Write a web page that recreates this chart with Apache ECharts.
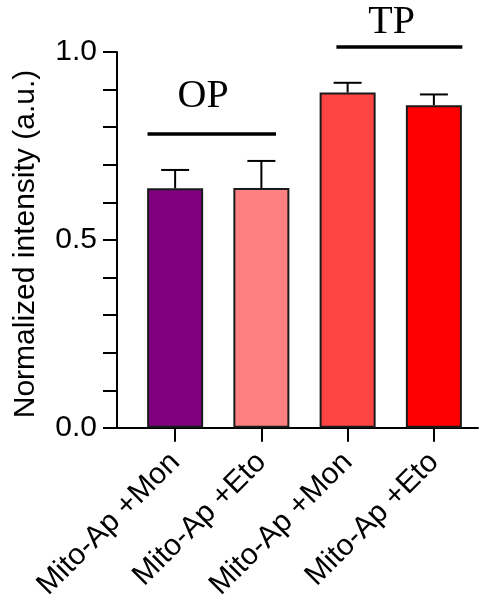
<!DOCTYPE html>
<html>
<head>
<meta charset="utf-8">
<script src="https://cdn.jsdelivr.net/npm/echarts@6/dist/echarts.min.js"></script>
<style>
  html, body { margin: 0; padding: 0; background: #fff; }
  #chart { width: 486px; height: 603px; }
</style>
</head>
<body>
<div id="chart"></div>
<script>
// data
const categories = ["Mito-Ap +Mon", "Mito-Ap +Eto", "Mito-Ap +Mon", "Mito-Ap +Eto"];
const means = [0.637, 0.638, 0.892, 0.858];
const errors = [0.049, 0.072, 0.026, 0.029];
const barColors = ["#800080", "#FF8080", "#FF4444", "#FF0000"];
const yTicks = [0, 0.5, 1.0];

// group brackets (in category units / y value)
const bracketLabels = ["OP", "TP"];
const bracketFrom = [-0.32, 1.87];
const bracketTo = [1.17, 3.33];
const bracketY = [0.782, 1.013];
const bracketTextY = [0.827, 1.024];
const bracketTextShift = [-0.1, -0.09];

const FONT = "Liberation Sans";
const chart = echarts.init(document.getElementById("chart"));

const gridPos = { top: 52, bottom: 175 };

const option = {
  animation: false,
  grid: [
    { left: 117, right: 8, top: gridPos.top, bottom: gridPos.bottom },
    { left: 132, right: 9, top: gridPos.top, bottom: gridPos.bottom },
  ],
  xAxis: [
    {
      // only the long axis line
      gridIndex: 0,
      type: "value",
      min: 0,
      max: 1,
      axisLine: { show: true, onZero: false, lineStyle: { color: "#000", width: 2 } },
      axisTick: { show: false },
      axisLabel: { show: false },
      splitLine: { show: false },
    },
    {
      gridIndex: 1,
      type: "category",
      data: categories,
      axisLine: { show: false },
      axisTick: { show: true, alignWithLabel: true, length: 14, lineStyle: { color: "#000", width: 2 } },
      axisLabel: {
        rotate: 45,
        margin: 30,
        color: "#000",
        fontSize: 30,
        fontFamily: FONT,
        interval: 0,
      },
    },
  ],
  yAxis: [
    {
      gridIndex: 0,
      type: "value",
      min: 0,
      max: 1,
      interval: 0.1,
      name: "Normalized intensity (a.u.)",
      nameLocation: "middle",
      nameGap: 76,
      nameTextStyle: { color: "#000", fontSize: 30, fontFamily: FONT, padding: [0, 8, 0, 0] },
      axisLine: { show: true, lineStyle: { color: "#000", width: 2 } },
      axisTick: { show: true, length: 14, lineStyle: { color: "#000", width: 2 } },
      axisLabel: {
        color: "#000",
        fontSize: 30,
        fontFamily: FONT,
        margin: 20,
        formatter: (v) => {
          const hit = yTicks.find((t) => Math.abs(t - v) < 1e-6);
          return hit === undefined ? "" : hit.toFixed(1);
        },
      },
      splitLine: { show: false },
    },
    {
      gridIndex: 1,
      type: "value",
      min: 0,
      max: 1,
      show: false,
      splitLine: { show: false },
    },
  ],
  series: [
    {
      type: "bar",
      xAxisIndex: 1,
      yAxisIndex: 1,
      barWidth: 56,
      data: means.map((v, i) => ({
        value: v,
        itemStyle: { color: barColors[i], borderColor: "#1a1a1a", borderWidth: 2 },
      })),
      z: 2,
    },
    {
      // upper error bars
      type: "custom",
      xAxisIndex: 1,
      yAxisIndex: 1,
      clip: false,
      z: 1,
      data: means.map((m, i) => [i, m, m + errors[i]]),
      renderItem: (params, api) => {
        const base = api.coord([api.value(0), api.value(1)]);
        const top = api.coord([api.value(0), api.value(2)]);
        const cap = 14;
        const style = { stroke: "#000", lineWidth: 2 };
        return {
          type: "group",
          children: [
            { type: "line", shape: { x1: base[0], y1: base[1], x2: top[0], y2: top[1] }, style },
            { type: "line", shape: { x1: top[0] - cap, y1: top[1], x2: top[0] + cap, y2: top[1] }, style },
          ],
        };
      },
    },
    {
      // OP / TP group brackets
      type: "custom",
      xAxisIndex: 1,
      yAxisIndex: 1,
      clip: false,
      z: 3,
      data: bracketLabels.map((_, i) => [i]),
      renderItem: (params, api) => {
        const i = params.dataIndex;
        const origin = api.coord([0, 0]);
        const band = api.size([1, 0])[0];
        const catX = (v) => origin[0] + v * band;
        const x1 = catX(bracketFrom[i]);
        const x2 = catX(bracketTo[i]);
        const y = api.coord([0, bracketY[i]])[1];
        const ty = api.coord([0, bracketTextY[i]])[1];
        return {
          type: "group",
          children: [
            { type: "line", shape: { x1, y1: y, x2, y2: y }, style: { stroke: "#000", lineWidth: 3.5 } },
            {
              type: "text",
              x: (x1 + x2) / 2 + bracketTextShift[i] * band,
              y: ty,
              style: {
                text: bracketLabels[i],
                fill: "#000",
                font: "40px 'Liberation Serif', 'Times New Roman', serif",
                textAlign: "center",
                textVerticalAlign: "bottom",
              },
            },
          ],
        };
      },
    },
  ],
};

chart.setOption(option);
</script>
</body>
</html>
